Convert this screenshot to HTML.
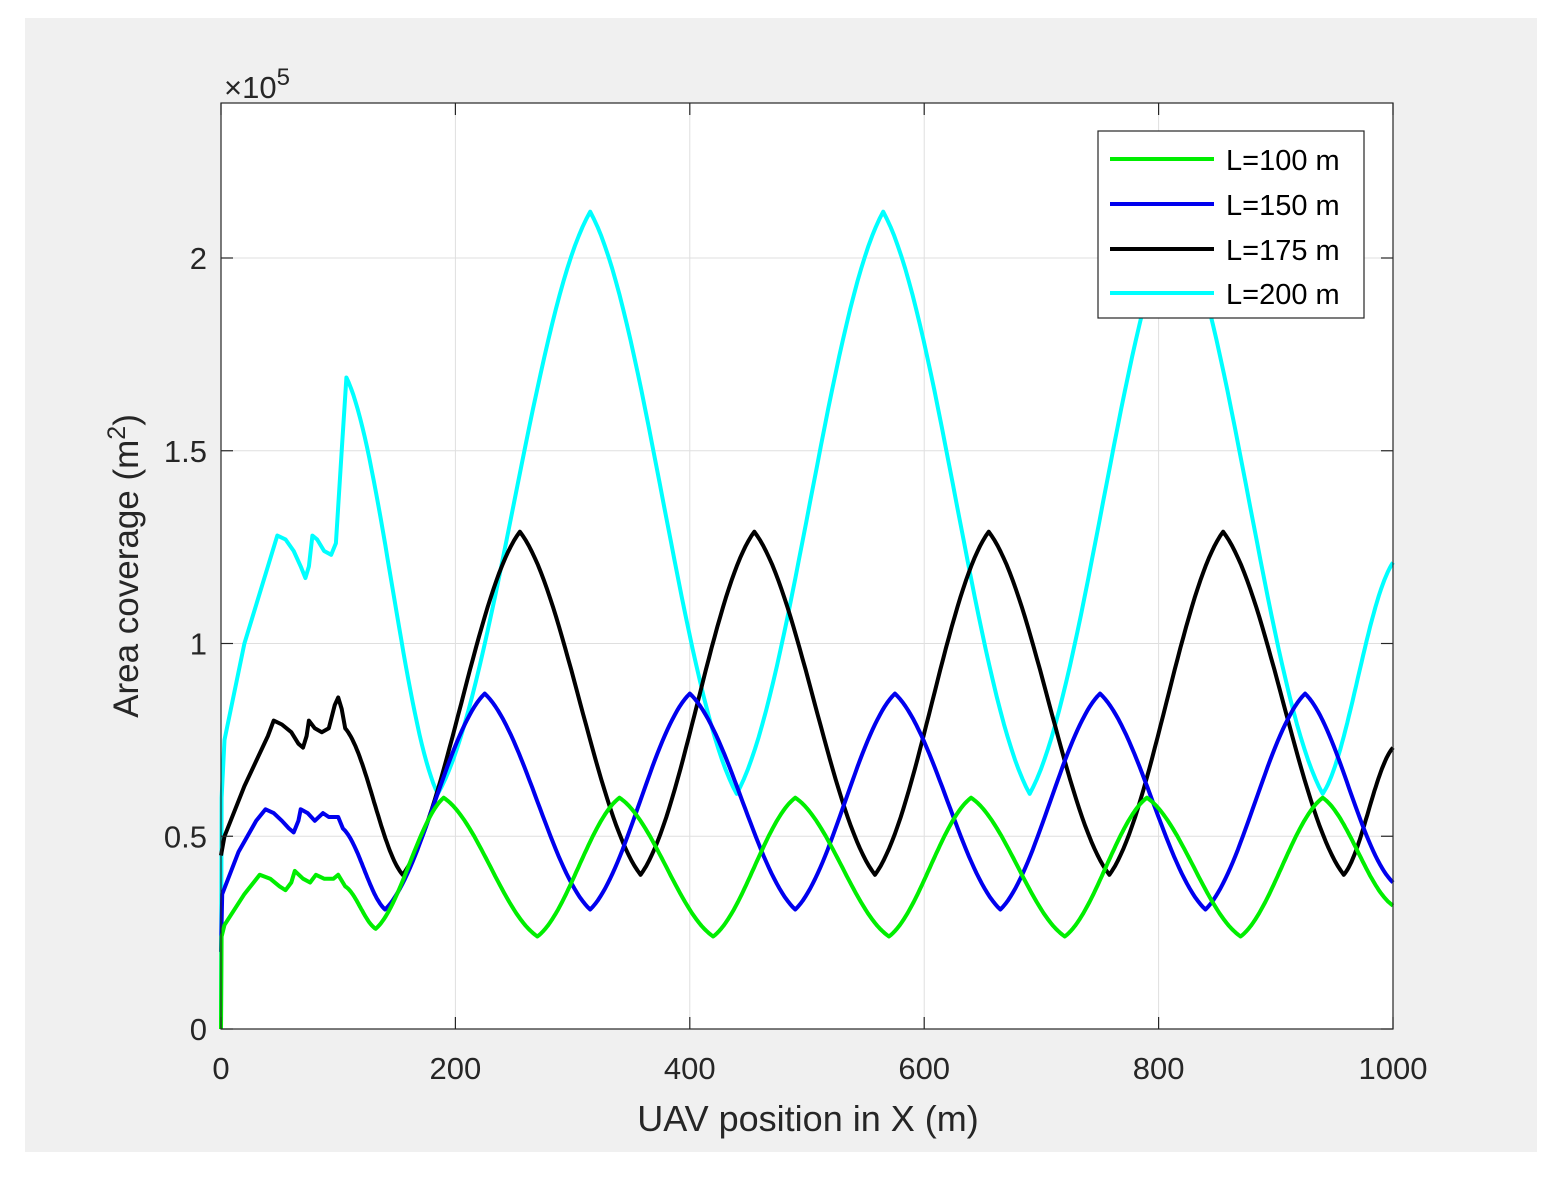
<!DOCTYPE html>
<html><head><meta charset="utf-8"><style>
html,body{margin:0;padding:0;background:#fff;}
svg{display:block;font-family:"Liberation Sans",Arial,sans-serif;}
</style></head><body>
<svg id="s" width="1557" height="1185" xmlns="http://www.w3.org/2000/svg">
<rect x="0" y="0" width="1557" height="1185" fill="#fff"/>
<rect x="25" y="18" width="1512" height="1134" fill="#f0f0f0"/>
<rect x="221" y="103" width="1172" height="926" fill="#fff"/>
<g id="grid" stroke="#dfdfdf" stroke-width="1"></g>
<g id="series" fill="none" stroke-width="4" stroke-linejoin="round"></g>
<rect x="221" y="103" width="1172" height="926" fill="none" stroke="#262626" stroke-width="1.2"/>
<g id="ticks" stroke="#262626" stroke-width="1.2"></g>
<g id="labels" fill="#262626" font-size="31"></g>
<text x="224" y="98" font-size="31" fill="#262626">×10<tspan font-size="24" dy="-13">5</tspan></text>
<text x="808" y="1131" font-size="36" fill="#262626" text-anchor="middle">UAV position in X (m)</text>
<text transform="translate(138,566) rotate(-90)" font-size="35" fill="#262626" text-anchor="middle">Area coverage (m<tspan font-size="25" dy="-13">2</tspan><tspan dy="13">)</tspan></text>
<g>
<rect x="1098" y="131" width="266" height="187" fill="#fff" stroke="#262626" stroke-width="1.2"/>
<line x1="1110" y1="159" x2="1214" y2="159" stroke="#00ee00" stroke-width="4"/>
<line x1="1110" y1="204" x2="1214" y2="204" stroke="#0000ee" stroke-width="4"/>
<line x1="1110" y1="249" x2="1214" y2="249" stroke="#000" stroke-width="4"/>
<line x1="1110" y1="293" x2="1214" y2="293" stroke="#00ffff" stroke-width="4"/>
<g font-size="29" fill="#000">
<text x="1226" y="170">L=100 m</text>
<text x="1226" y="215">L=150 m</text>
<text x="1226" y="260">L=175 m</text>
<text x="1226" y="304">L=200 m</text>
</g></g>
</svg>
<script>
const NS="http://www.w3.org/2000/svg";
const X=x=>221+1.172*x, Y=v=>1029-385.5*v;
const grid=document.getElementById('grid'),ticks=document.getElementById('ticks'),labels=document.getElementById('labels');
function el(p,t,a){const e=document.createElementNS(NS,t);for(const k in a)e.setAttribute(k,a[k]);p.appendChild(e);return e;}
for(let x=0;x<=1000;x+=200){const px=X(x);
 if(x>0&&x<1000)el(grid,'line',{x1:px,y1:103,x2:px,y2:1029});
 el(ticks,'line',{x1:px,y1:1029,x2:px,y2:1017});el(ticks,'line',{x1:px,y1:103,x2:px,y2:115});
 const t=el(labels,'text',{x:px,y:1079,'text-anchor':'middle'});t.textContent=x;}
for(let v=0;v<=2;v+=0.5){const py=Y(v);
 if(v>0)el(grid,'line',{x1:221,y1:py,x2:1393,y2:py});
 el(ticks,'line',{x1:221,y1:py,x2:233,y2:py});el(ticks,'line',{x1:1393,y1:py,x2:1381,y2:py});
 const t=el(labels,'text',{x:207,y:py+11,'text-anchor':'end'});t.textContent=v;}
const f=t=>0.45*t+0.55*(1-Math.cos(Math.PI*t))/2 + 0.0*t;
function build(init,ext){
 let pts=init.map(p=>[X(p[0]),Y(p[1])]);
 for(let i=0;i<ext.length-1;i++){const a=ext[i],b=ext[i+1];
  for(let k=1;k<=40;k++){const t=k/40;const x=a[0]+(b[0]-a[0])*t;let v;
   if(b[1]>a[1])v=a[1]+(b[1]-a[1])*f(t);else v=b[1]+(a[1]-b[1])*f(1-t);
   pts.push([X(x),Y(v)]);}}
 return pts.map(p=>p[0].toFixed(1)+','+p[1].toFixed(1)).join(' ');}
const S=document.getElementById('series');
let c=[[0,0],[0.5,0.6],[3,0.75],[20,1.0],[40,1.2],[48,1.28],[55,1.27],[62,1.24],[68,1.2],[72,1.17],[75,1.2],[78,1.28],[82,1.27],[88,1.24],[94,1.23],[98,1.26],[103,1.5],[107,1.69]];
let ce=[[107,1.69],[185,0.61],[315,2.12],[440,0.61],[565,2.12],[690,0.61],[815,2.12],[940,0.61],[1000,1.21]];
let k=[[0,0.45],[3,0.5],[20,0.63],[40,0.76],[45,0.80],[52,0.79],[60,0.77],[66,0.74],[70,0.73],[73,0.76],[75,0.80],[80,0.78],[86,0.77],[92,0.78],[97,0.84],[100,0.86],[103,0.83],[106,0.78]];
let ke=[[106,0.78],[155,0.40],[255,1.29],[358,0.40],[455,1.29],[558,0.40],[655,1.29],[758,0.40],[855,1.29],[958,0.40],[1000,0.73]];
let b=[[0,0.2],[1,0.35],[15,0.46],[30,0.54],[38,0.57],[45,0.56],[52,0.54],[58,0.52],[62,0.51],[66,0.54],[68,0.57],[74,0.56],[80,0.54],[87,0.56],[92,0.55],[100,0.55],[104,0.52]];
let be=[[104,0.52],[140,0.31],[225,0.87],[315,0.31],[400,0.87],[490,0.31],[575,0.87],[665,0.31],[750,0.87],[840,0.31],[925,0.87],[1000,0.38]];
let g=[[0,0],[0.5,0.24],[3,0.27],[20,0.35],[33,0.40],[42,0.39],[50,0.37],[55,0.36],[60,0.38],[63,0.41],[70,0.39],[76,0.38],[81,0.40],[88,0.39],[96,0.39],[100,0.40],[106,0.37]];
let ge=[[106,0.37],[132,0.26],[190,0.60],[270,0.24],[340,0.60],[420,0.24],[490,0.60],[570,0.24],[640,0.60],[720,0.24],[790,0.60],[870,0.24],[940,0.60],[1000,0.32]];
el(S,'polyline',{points:build(c,ce),stroke:'#00ffff'});
el(S,'polyline',{points:build(k,ke),stroke:'#000'});
el(S,'polyline',{points:build(b,be),stroke:'#0000ee'});
el(S,'polyline',{points:build(g,ge),stroke:'#00ee00'});
</script>
</body></html>
